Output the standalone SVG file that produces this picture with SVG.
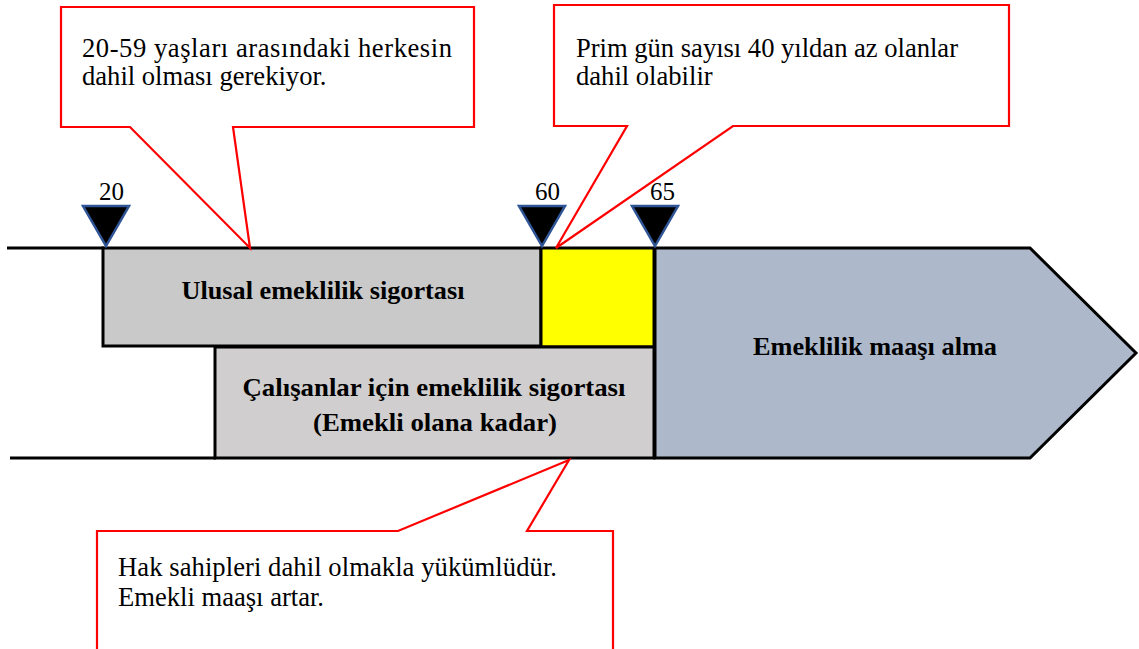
<svg xmlns="http://www.w3.org/2000/svg" width="1139" height="649" viewBox="0 0 1139 649" font-family="'Liberation Serif', 'Times New Roman', Times, serif">
<style>
.box{stroke:#000;stroke-width:3}
.callout{fill:#fff;stroke:#ff0000;stroke-width:2.2;stroke-linejoin:miter}
.marker{fill:#000;stroke:#2f5597;stroke-width:2.5;stroke-linejoin:miter}
text{font-family:'Liberation Serif','Times New Roman',Times,serif;fill:#000}
.note{font-size:26.6px}
.bold{font-size:25px;font-weight:bold;text-anchor:middle}
.age{font-size:25px}
</style>
<rect width="1139" height="649" fill="#fff"/>
<g id="connectors">
<line x1="7" y1="248" x2="104" y2="248" stroke="#000" stroke-width="3"/>
<line x1="10" y1="458" x2="216" y2="458" stroke="#000" stroke-width="3"/>
</g>
<g id="node-pension">
<polygon class="box" fill="#adb9ca" points="655,248 1030,248 1136,353 1030,458 655,458"/>
<text class="bold" x="875" y="355" textLength="244" lengthAdjust="spacingAndGlyphs">Emeklilik maaşı alma</text>
</g>
<g id="node-ulusal">
<rect class="box" fill="#c9c9c9" x="103" y="248" width="438" height="98"/>
<text class="bold" x="323" y="299" textLength="283" lengthAdjust="spacingAndGlyphs">Ulusal emeklilik sigortası</text>
</g>
<g id="node-yellow">
<rect class="box" fill="#ffff00" x="541" y="248" width="113" height="99"/>
</g>
<g id="node-calisanlar">
<rect class="box" fill="#d0cece" x="215" y="347" width="439" height="111"/>
<text class="bold" x="434" y="396" textLength="383" lengthAdjust="spacingAndGlyphs">Çalışanlar için emeklilik sigortası</text>
<text class="bold" x="435" y="431" textLength="244" lengthAdjust="spacingAndGlyphs">(Emekli olana kadar)</text>
</g>
<g id="marker-20">
<polygon class="marker" points="83,206 129,206 106,246"/>
<text class="age" x="99" y="200">20</text>
</g>
<g id="marker-60">
<polygon class="marker" points="519,206 565,206 542,246"/>
<text class="age" x="535" y="200">60</text>
</g>
<g id="marker-65">
<polygon class="marker" points="632,206 678,206 655,246"/>
<text class="age" x="650" y="200">65</text>
</g>
<g id="callout-1">
<path class="callout" d="M61,7 H474 V127 H233 L250,248 L130,127 H61 Z"/>
<text class="note" x="82" y="57" textLength="370" lengthAdjust="spacing">20-59 yaşları arasındaki herkesin</text>
<text class="note" x="82" y="85">dahil olması gerekiyor.</text>
</g>
<g id="callout-2">
<path class="callout" d="M554,5 H1009 V126 H733 L556,248 L627,126 H554 Z"/>
<text class="note" x="576" y="57" textLength="382" lengthAdjust="spacing">Prim gün sayısı 40 yıldan az olanlar</text>
<text class="note" x="576" y="85">dahil olabilir</text>
</g>
<g id="callout-3">
<path class="callout" d="M97,660 V531 H398 L569,460 L527,531 H613 V660"/>
<text class="note" x="118" y="576" textLength="439" lengthAdjust="spacing">Hak sahipleri dahil olmakla yükümlüdür.</text>
<text class="note" x="118" y="606">Emekli maaşı artar.</text>
</g>
</svg>
